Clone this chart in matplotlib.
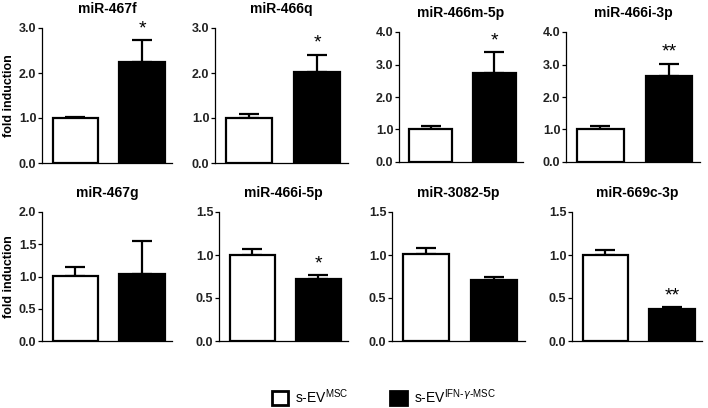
import matplotlib
matplotlib.use('Agg')
import matplotlib.pyplot as plt
from matplotlib.patches import Patch

plt.rcParams['font.family'] = ['Liberation Sans', 'DejaVu Sans']

# data
titles = ['miR-467f', 'miR-466q', 'miR-466m-5p', 'miR-466i-3p',
          'miR-467g', 'miR-466i-5p', 'miR-3082-5p', 'miR-669c-3p']
msc_mean = [1.0, 1.0, 1.01, 1.02, 1.01, 1.0, 1.01, 1.0]
msc_err = [0.03, 0.09, 0.1, 0.09, 0.14, 0.065, 0.07, 0.06]
ifn_mean = [2.25, 2.03, 2.73, 2.65, 1.04, 0.72, 0.71, 0.37]
ifn_err = [0.48, 0.38, 0.64, 0.38, 0.51, 0.05, 0.03, 0.02]
stars = ['*', '*', '*', '**', '', '*', '', '**']
ymax = [3.0, 3.0, 4.0, 4.0, 2.0, 1.5, 1.5, 1.5]
ystep = [1.0, 1.0, 1.0, 1.0, 0.5, 0.5, 0.5, 0.5]

W, H = 708, 408
fig = plt.figure(figsize=(W / 100, H / 100), dpi=100)

# axes boxes in pixels: left, right, top, bottom
lefts = [42, 215, 399, 566, 42, 219, 392, 572]
rights = [172, 348, 523, 700, 172, 348, 525, 702]
tops = [28, 28, 32, 32, 212, 212, 212, 212]
bottoms = [163, 163, 162, 162, 341, 341, 341, 341]

for i in range(8):
    ax = fig.add_axes([lefts[i] / W, 1 - bottoms[i] / H,
                       (rights[i] - lefts[i]) / W, (bottoms[i] - tops[i]) / H])
    ax.bar([0, 1], [msc_mean[i], ifn_mean[i]], width=0.68,
           color=['white', 'black'], edgecolor='black', linewidth=1.6, zorder=3)
    ax.errorbar([0, 1], [msc_mean[i], ifn_mean[i]],
                yerr=[[0, 0], [msc_err[i], ifn_err[i]]],
                fmt='none', ecolor='black', elinewidth=1.6, capsize=7,
                capthick=1.6, zorder=2)
    if stars[i]:
        ax.text(1, ifn_mean[i] + ifn_err[i] + ymax[i] * 0.02, stars[i],
                ha='center', va='bottom', fontsize=14)
    ax.set_xlim(-0.5, 1.45)
    ax.set_ylim(0, ymax[i])
    n = int(round(ymax[i] / ystep[i]))
    ax.set_yticks([k * ystep[i] for k in range(n + 1)])
    ax.set_yticklabels(['%.1f' % (k * ystep[i]) for k in range(n + 1)],
                       fontsize=9, fontweight='bold', color='#222222')
    ax.set_xticks([])
    ax.spines['top'].set_visible(False)
    ax.spines['right'].set_visible(False)
    ax.spines['left'].set_linewidth(0.9)
    ax.spines['bottom'].set_linewidth(0.9)
    ax.tick_params(axis='y', length=3, width=0.9, pad=1)
    ax.set_title(titles[i], fontsize=10, fontweight='bold', pad=11)
    if i in (0, 4):
        ax.set_ylabel('fold induction', fontsize=9, fontweight='bold', labelpad=3)

handles = [Patch(facecolor='white', edgecolor='black', linewidth=2),
           Patch(facecolor='black', edgecolor='black', linewidth=2)]
labels = [r's-EV$^{\mathregular{MSC}}$',
          r's-EV$^{\mathregular{IFN\text{-}}\gamma\mathregular{\text{-}MSC}}$']
fig.legend(handles, labels, loc='center', bbox_to_anchor=(0.542, 0.028), ncol=2,
           frameon=False, fontsize=10, handlelength=1.2, handleheight=1.2,
           columnspacing=3.0, handletextpad=0.5)

fig.savefig('out.png', dpi=100)
